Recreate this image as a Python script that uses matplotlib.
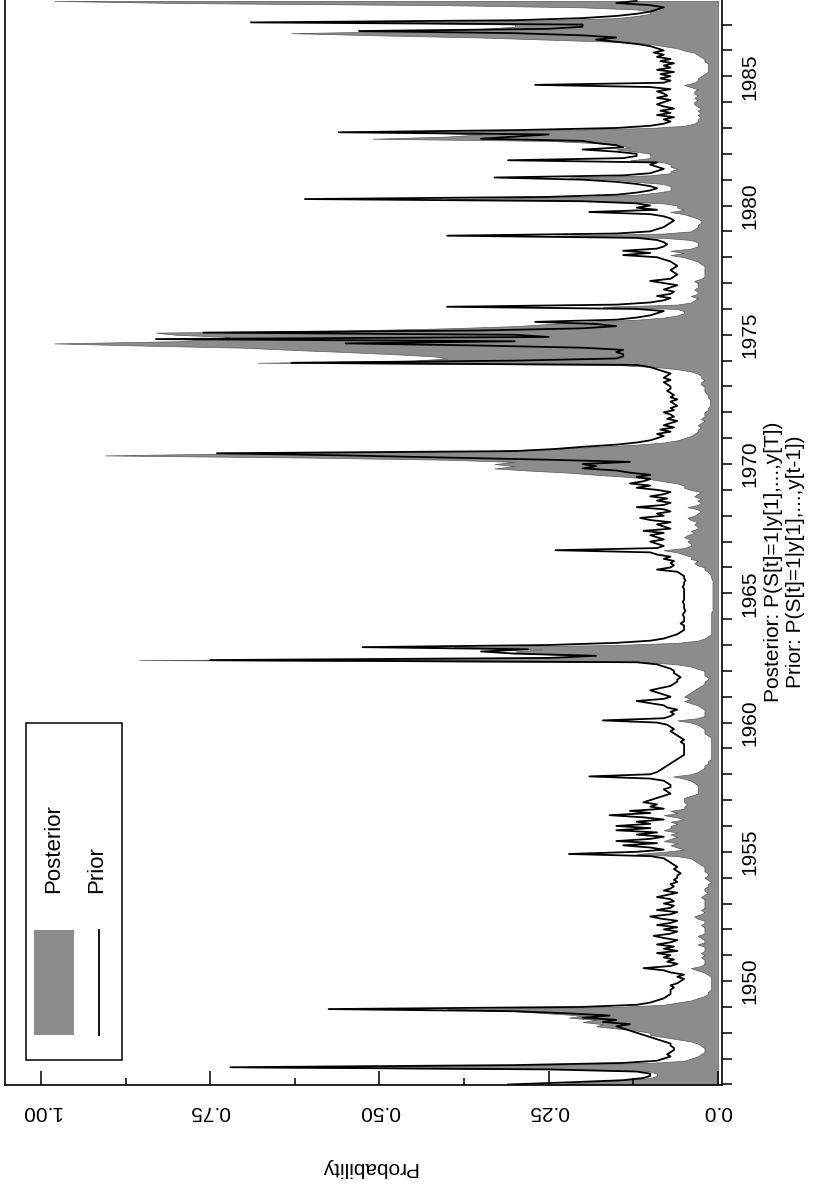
import matplotlib
matplotlib.use("Agg")
import matplotlib.pyplot as plt
import numpy as np
from matplotlib.patches import Rectangle
from matplotlib.lines import Line2D
from matplotlib.ticker import FixedLocator, MultipleLocator

plt.rcParams['font.family'] = ['Liberation Sans', 'DejaVu Sans']

start_year = 1946  # monthly data, Jan 1946 - Dec 1987

prior = [
    0.31, 0.22, 0.14, 0.11, 0.10, 0.10, 0.12, 0.25, 0.72, 0.30, 0.14, 0.09,   # 1946
    0.08, 0.07, 0.075, 0.07, 0.065, 0.065, 0.07, 0.07, 0.08, 0.09, 0.10, 0.11, # 1947
    0.12, 0.13, 0.14, 0.15, 0.13, 0.17, 0.15, 0.20, 0.16, 0.22, 0.30, 0.575,  # 1948
    0.20, 0.12, 0.10, 0.09, 0.08, 0.075, 0.07, 0.07, 0.07, 0.065, 0.07, 0.06, # 1949
    0.055, 0.05, 0.06, 0.05, 0.07, 0.08, 0.11, 0.07, 0.06, 0.075, 0.065, 0.08, # 1950
    0.07, 0.09, 0.06, 0.08, 0.065, 0.09, 0.07, 0.06, 0.08, 0.095, 0.07, 0.06, # 1951
    0.08, 0.06, 0.09, 0.07, 0.06, 0.085, 0.10, 0.07, 0.06, 0.09, 0.07, 0.065, # 1952
    0.08, 0.065, 0.07, 0.09, 0.075, 0.06, 0.08, 0.07, 0.065, 0.07, 0.06, 0.065, # 1953
    0.06, 0.06, 0.055, 0.06, 0.065, 0.06, 0.065, 0.07, 0.075, 0.08, 0.10, 0.22, # 1954
    0.12, 0.08, 0.10, 0.14, 0.09, 0.15, 0.10, 0.08, 0.12, 0.09, 0.15, 0.10,   # 1955
    0.15, 0.10, 0.12, 0.08, 0.11, 0.16, 0.10, 0.13, 0.08, 0.10, 0.09, 0.11,   # 1956
    0.10, 0.09, 0.08, 0.07, 0.075, 0.08, 0.07, 0.07, 0.075, 0.08, 0.10, 0.19, # 1957
    0.10, 0.09, 0.085, 0.08, 0.075, 0.07, 0.065, 0.06, 0.055, 0.05, 0.05, 0.05, # 1958
    0.05, 0.05, 0.05, 0.055, 0.05, 0.055, 0.06, 0.065, 0.07, 0.065, 0.07, 0.075, # 1959
    0.09, 0.17, 0.08, 0.07, 0.065, 0.07, 0.06, 0.075, 0.08, 0.10, 0.12, 0.08, # 1960
    0.07, 0.08, 0.09, 0.10, 0.085, 0.07, 0.065, 0.06, 0.06, 0.055, 0.06, 0.065, # 1961
    0.065, 0.07, 0.08, 0.09, 0.12, 0.75, 0.25, 0.18, 0.30, 0.35, 0.28, 0.525, # 1962
    0.25, 0.15, 0.10, 0.08, 0.07, 0.06, 0.055, 0.05, 0.05, 0.05, 0.055, 0.05, # 1963
    0.05, 0.05, 0.052, 0.05, 0.048, 0.05, 0.05, 0.05, 0.052, 0.05, 0.05, 0.05, # 1964
    0.05, 0.05, 0.05, 0.052, 0.05, 0.05, 0.048, 0.05, 0.05, 0.055, 0.06, 0.09, # 1965
    0.07, 0.065, 0.07, 0.065, 0.08, 0.07, 0.09, 0.10, 0.24, 0.09, 0.08, 0.09, # 1966
    0.10, 0.08, 0.09, 0.10, 0.08, 0.11, 0.07, 0.08, 0.09, 0.07, 0.10, 0.115,  # 1967
    0.08, 0.09, 0.07, 0.08, 0.12, 0.08, 0.07, 0.09, 0.075, 0.10, 0.08, 0.07,  # 1968
    0.09, 0.12, 0.10, 0.13, 0.11, 0.10, 0.12, 0.10, 0.13, 0.15, 0.20, 0.18,   # 1969
    0.20, 0.13, 0.25, 0.40, 0.55, 0.74, 0.30, 0.24, 0.20, 0.15, 0.12, 0.10,   # 1970
    0.09, 0.08, 0.09, 0.07, 0.085, 0.065, 0.08, 0.07, 0.06, 0.075, 0.065, 0.07, # 1971
    0.08, 0.065, 0.07, 0.06, 0.065, 0.07, 0.06, 0.07, 0.065, 0.07, 0.075, 0.07, # 1972
    0.07, 0.075, 0.08, 0.07, 0.08, 0.075, 0.07, 0.08, 0.09, 0.10, 0.12, 0.63, # 1973
    0.30, 0.15, 0.14, 0.14, 0.15, 0.14, 0.20, 0.35, 0.55, 0.30, 0.83, 0.25,   # 1974
    0.30, 0.76, 0.35, 0.20, 0.15, 0.18, 0.27, 0.15, 0.12, 0.10, 0.09, 0.08,   # 1975
    0.12, 0.40, 0.15, 0.10, 0.08, 0.07, 0.09, 0.07, 0.065, 0.08, 0.07, 0.06,  # 1976
    0.08, 0.10, 0.07, 0.065, 0.06, 0.065, 0.07, 0.065, 0.06, 0.065, 0.07, 0.08, # 1977
    0.09, 0.14, 0.10, 0.14, 0.09, 0.08, 0.075, 0.08, 0.09, 0.12, 0.40, 0.15,  # 1978
    0.10, 0.09, 0.08, 0.075, 0.07, 0.065, 0.07, 0.08, 0.10, 0.19, 0.09, 0.12, # 1979
    0.10, 0.12, 0.20, 0.61, 0.25, 0.15, 0.12, 0.10, 0.09, 0.10, 0.12, 0.15,   # 1980
    0.20, 0.33, 0.14, 0.10, 0.09, 0.08, 0.09, 0.10, 0.09, 0.31, 0.14, 0.12,   # 1981
    0.12, 0.15, 0.20, 0.14, 0.15, 0.18, 0.20, 0.35, 0.30, 0.25, 0.56, 0.30,   # 1982
    0.15, 0.10, 0.08, 0.07, 0.08, 0.065, 0.09, 0.07, 0.085, 0.065, 0.08, 0.09, # 1983
    0.08, 0.07, 0.09, 0.075, 0.08, 0.09, 0.07, 0.10, 0.27, 0.08, 0.07, 0.085, # 1984
    0.07, 0.085, 0.065, 0.09, 0.07, 0.08, 0.065, 0.085, 0.07, 0.09, 0.08, 0.095, # 1985
    0.08, 0.09, 0.10, 0.12, 0.15, 0.18, 0.15, 0.20, 0.30, 0.53, 0.25, 0.20,   # 1986
    0.20, 0.69, 0.30, 0.20, 0.15, 0.12, 0.10, 0.09, 0.08, 0.10, 0.15, 0.12,   # 1987
]

posterior = [
    0.25, 0.20, 0.14, 0.10, 0.09, 0.09, 0.10, 0.20, 0.70, 0.28, 0.10, 0.05,   # 1946
    0.04, 0.03, 0.025, 0.02, 0.02, 0.02, 0.025, 0.03, 0.04, 0.06, 0.08, 0.10, # 1947
    0.10, 0.12, 0.15, 0.18, 0.17, 0.20, 0.18, 0.22, 0.20, 0.25, 0.30, 0.40,   # 1948
    0.15, 0.08, 0.06, 0.04, 0.03, 0.02, 0.015, 0.015, 0.01, 0.01, 0.01, 0.01, # 1949
    0.01, 0.01, 0.01, 0.015, 0.02, 0.03, 0.04, 0.025, 0.02, 0.02, 0.02, 0.025, # 1950
    0.02, 0.025, 0.02, 0.02, 0.02, 0.03, 0.02, 0.02, 0.025, 0.03, 0.02, 0.02, # 1951
    0.02, 0.02, 0.025, 0.02, 0.02, 0.03, 0.035, 0.025, 0.02, 0.025, 0.02, 0.02, # 1952
    0.02, 0.02, 0.02, 0.025, 0.02, 0.015, 0.02, 0.02, 0.015, 0.015, 0.01, 0.015, # 1953
    0.02, 0.015, 0.015, 0.02, 0.02, 0.02, 0.025, 0.03, 0.035, 0.04, 0.06, 0.12, # 1954
    0.08, 0.05, 0.06, 0.07, 0.06, 0.08, 0.07, 0.06, 0.07, 0.06, 0.08, 0.07,   # 1955
    0.07, 0.06, 0.07, 0.05, 0.06, 0.08, 0.06, 0.07, 0.05, 0.05, 0.045, 0.05,  # 1956
    0.05, 0.05, 0.04, 0.03, 0.03, 0.03, 0.03, 0.03, 0.035, 0.04, 0.05, 0.066, # 1957
    0.04, 0.03, 0.025, 0.02, 0.02, 0.015, 0.015, 0.01, 0.01, 0.01, 0.01, 0.01, # 1958
    0.01, 0.01, 0.01, 0.01, 0.01, 0.01, 0.015, 0.02, 0.02, 0.02, 0.025, 0.03, # 1959
    0.04, 0.06, 0.03, 0.02, 0.02, 0.02, 0.02, 0.025, 0.03, 0.04, 0.05, 0.04,  # 1960
    0.05, 0.045, 0.04, 0.035, 0.03, 0.025, 0.02, 0.02, 0.015, 0.015, 0.02, 0.02, # 1961
    0.02, 0.03, 0.04, 0.06, 0.10, 0.855, 0.25, 0.20, 0.28, 0.30, 0.26, 0.39,  # 1962
    0.15, 0.06, 0.03, 0.02, 0.015, 0.01, 0.01, 0.01, 0.01, 0.01, 0.01, 0.01,  # 1963
    0.01, 0.01, 0.01, 0.01, 0.008, 0.008, 0.008, 0.008, 0.008, 0.008, 0.008, 0.008, # 1964
    0.008, 0.008, 0.008, 0.008, 0.008, 0.008, 0.008, 0.01, 0.01, 0.012, 0.015, 0.02, # 1965
    0.02, 0.03, 0.035, 0.03, 0.04, 0.04, 0.05, 0.06, 0.08, 0.05, 0.04, 0.04,  # 1966
    0.045, 0.04, 0.05, 0.045, 0.035, 0.04, 0.03, 0.03, 0.035, 0.03, 0.04, 0.045, # 1967
    0.035, 0.03, 0.025, 0.03, 0.045, 0.03, 0.025, 0.03, 0.025, 0.035, 0.03, 0.025, # 1968
    0.04, 0.05, 0.05, 0.06, 0.08, 0.10, 0.13, 0.18, 0.22, 0.28, 0.33, 0.30,   # 1969
    0.33, 0.30, 0.40, 0.60, 0.905, 0.70, 0.35, 0.25, 0.18, 0.12, 0.08, 0.06,  # 1970
    0.05, 0.04, 0.035, 0.03, 0.03, 0.025, 0.03, 0.025, 0.02, 0.025, 0.02, 0.02, # 1971
    0.02, 0.015, 0.015, 0.012, 0.012, 0.012, 0.012, 0.015, 0.015, 0.018, 0.02, 0.02, # 1972
    0.02, 0.025, 0.025, 0.02, 0.025, 0.025, 0.03, 0.04, 0.06, 0.09, 0.15, 0.68, # 1973
    0.45, 0.40, 0.42, 0.48, 0.55, 0.63, 0.70, 0.85, 0.98, 0.80, 0.75, 0.72,   # 1974
    0.80, 0.83, 0.55, 0.40, 0.30, 0.25, 0.20, 0.12, 0.08, 0.06, 0.05, 0.05,   # 1975
    0.06, 0.17, 0.06, 0.04, 0.035, 0.03, 0.04, 0.03, 0.03, 0.035, 0.03, 0.03, # 1976
    0.03, 0.035, 0.025, 0.02, 0.02, 0.02, 0.02, 0.02, 0.02, 0.025, 0.03, 0.04, # 1977
    0.05, 0.07, 0.05, 0.07, 0.04, 0.03, 0.03, 0.03, 0.04, 0.08, 0.24, 0.08,   # 1978
    0.04, 0.035, 0.03, 0.03, 0.025, 0.025, 0.03, 0.04, 0.05, 0.07, 0.05, 0.06, # 1979
    0.06, 0.08, 0.15, 0.40, 0.20, 0.12, 0.09, 0.07, 0.07, 0.07, 0.08, 0.12,   # 1980
    0.15, 0.22, 0.10, 0.07, 0.07, 0.06, 0.07, 0.07, 0.08, 0.13, 0.10, 0.10,   # 1981
    0.10, 0.12, 0.15, 0.13, 0.15, 0.18, 0.25, 0.51, 0.40, 0.35, 0.45, 0.25,   # 1982
    0.10, 0.05, 0.035, 0.03, 0.03, 0.025, 0.03, 0.025, 0.03, 0.025, 0.03, 0.035, # 1983
    0.035, 0.03, 0.035, 0.03, 0.035, 0.035, 0.03, 0.04, 0.05, 0.035, 0.03, 0.03, # 1984
    0.025, 0.02, 0.015, 0.015, 0.015, 0.015, 0.015, 0.02, 0.02, 0.025, 0.03, 0.035, # 1985
    0.05, 0.06, 0.08, 0.10, 0.15, 0.25, 0.35, 0.50, 0.63, 0.45, 0.35, 0.30,   # 1986
    0.30, 0.50, 0.25, 0.15, 0.12, 0.10, 0.10, 0.12, 0.20, 0.40, 0.80, 0.98,   # 1987
]

year_ticks = [1950, 1955, 1960, 1965, 1970, 1975, 1980, 1985]
year_labels = [str(y) for y in year_ticks]
prob_ticks = [0.0, 0.25, 0.5, 0.75, 1.0]
prob_labels = ["0.0", "0.25", "0.50", "0.75", "1.00"]
legend_labels = ["Posterior", "Prior"]
note_posterior = "Posterior: P(S[t]=1|y[1],...,y[T])"
note_prior = "Prior: P(S[t]=1|y[1],...,y[t-1])"
axis_label = "Probability"

W, H = 821, 1189
fs = 15
fill_color = '#8c8c8c'

t = start_year + np.arange(len(prior)) / 12.0

fig = plt.figure(figsize=(W / 100, H / 100), dpi=100)
ax = fig.add_axes([5 / W, 1 - 1085 / H, 717 / W, 1085 / H])

ax.fill_betweenx(t, 0, posterior, facecolor=fill_color, edgecolor='#5a5a5a', linewidth=0.5)
ax.plot(prior, t, color='black', linewidth=1.3)

ax.set_xlim(1.053, -0.006)
ax.set_ylim(1945.98, 1987.95)

for s in ['left', 'right', 'bottom']:
    ax.spines[s].set_linewidth(1.2)
ax.spines['top'].set_visible(False)

# time axis on the right
ax.yaxis.tick_right()
ax.set_yticks(year_ticks)
ax.set_yticklabels(year_labels, rotation=90, va='center', fontsize=fs)
ax.yaxis.set_minor_locator(MultipleLocator(1))
ax.tick_params(axis='y', which='both', direction='out', length=7, width=1.1, pad=6)

# probability axis on the bottom
ax.set_xticks(prob_ticks)
ax.set_xticklabels(prob_labels, rotation=180, fontsize=fs)
ax.xaxis.set_minor_locator(FixedLocator([0.125, 0.375, 0.625, 0.875]))
ax.tick_params(axis='x', which='major', direction='in', length=10, width=1.1, pad=12)
ax.tick_params(axis='x', which='minor', direction='in', length=5, width=1.1)

fig.text(369 / W, 1 - 1167 / H, axis_label, rotation=180, ha='center', va='center', fontsize=fs)

fig.text(773 / W, 1 - 562 / H, note_posterior, rotation=90, ha='center', va='center', fontsize=fs)
fig.text(795 / W, 1 - 562 / H, note_prior, rotation=90, ha='center', va='center', fontsize=fs)

# legend (rotated layout)
fig.patches.append(Rectangle((26 / W, 1 - 1060 / H), 96 / W, 337 / H, transform=fig.transFigure,
                             facecolor='white', edgecolor='black', linewidth=1.1, zorder=5))
fig.patches.append(Rectangle((34 / W, 1 - 1035 / H), 40 / W, 105 / H, transform=fig.transFigure,
                             facecolor=fill_color, edgecolor='none', zorder=6))
fig.lines.append(Line2D([99 / W, 99 / W], [1 - 1035 / H, 1 - 930 / H], transform=fig.transFigure,
                        color='black', linewidth=1.3, zorder=6))
fig.text(54 / W, 1 - 893 / H, legend_labels[0], rotation=90, rotation_mode='anchor',
         ha='left', va='center', fontsize=16, zorder=7)
fig.text(97 / W, 1 - 893 / H, legend_labels[1], rotation=90, rotation_mode='anchor',
         ha='left', va='center', fontsize=16, zorder=7)

fig.savefig('out.png', dpi=100)
